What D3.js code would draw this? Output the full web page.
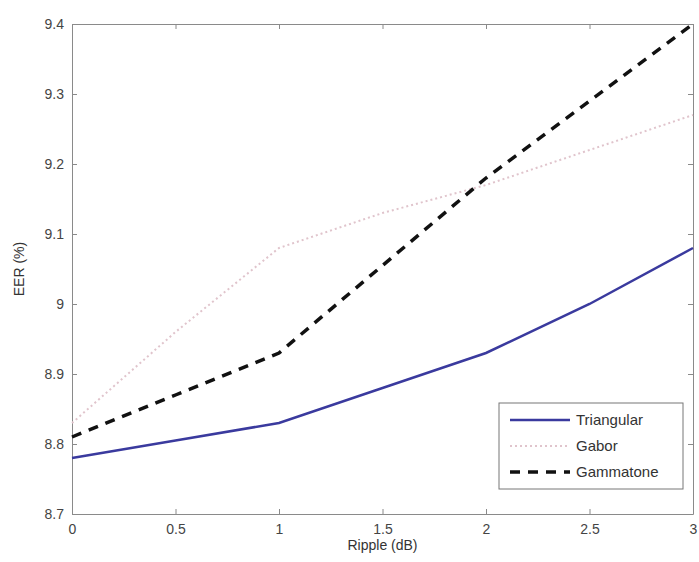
<!DOCTYPE html>
<html>
<head>
<meta charset="utf-8">
<script src="https://cdn.jsdelivr.net/npm/d3@7"></script>
<style>
  body { margin: 0; background: #fff; }
  text { font-family: "Liberation Sans", Arial, sans-serif; fill: #333; }
</style>
</head>
<body>
<div id="chart"></div>
<script>
// values
let ripple = [0, 0.5, 1, 1.5, 2, 2.5, 3];
let triangular = [8.78, 8.805, 8.83, 8.88, 8.93, 9.0, 9.08];
let gabor = [8.83, 8.96, 9.08, 9.13, 9.17, 9.22, 9.27];
let gammatone = [8.81, 8.87, 8.93, 9.055, 9.18, 9.29, 9.40];
let xTicks = [0, 0.5, 1, 1.5, 2, 2.5, 3];
let yTicks = [8.7, 8.8, 8.9, 9, 9.1, 9.2, 9.3, 9.4];
let seriesNames = ["Triangular", "Gabor", "Gammatone"];

let margin = {top: 24, right: 6, bottom: 48, left: 72};
let totalW = 699, totalH = 562;
let width = totalW - margin.left - margin.right;
let height = totalH - margin.top - margin.bottom;

let svg = d3.select("#chart")
    .append("svg")
    .attr("width", totalW)
    .attr("height", totalH)
    .append("g")
    .attr("transform", "translate(" + margin.left + "," + margin.top + ")");

let xScale = d3.scaleLinear().domain([0, 3]).range([0, width]);
let yScale = d3.scaleLinear().domain([8.7, 9.4]).range([height, 0]);

let fmt = d => d3.format("")(+d.toFixed(2));

// axes with inward ticks (matlab style)
let xAxis = d3.axisBottom(xScale).tickValues(xTicks).tickFormat(fmt).tickSizeInner(-5).tickSizeOuter(0).tickPadding(10);
let yAxis = d3.axisLeft(yScale).tickValues(yTicks).tickFormat(fmt).tickSizeInner(-5).tickSizeOuter(0).tickPadding(8);
let xTop = d3.axisTop(xScale).tickValues(xTicks).tickFormat("").tickSizeInner(-5).tickSizeOuter(0);
let yRight = d3.axisRight(yScale).tickValues(yTicks).tickFormat("").tickSizeInner(-5).tickSizeOuter(0);

svg.append("g").attr("transform", `translate(0, ${height})`).call(xAxis);
svg.append("g").call(yAxis);
svg.append("g").call(xTop);
svg.append("g").attr("transform", `translate(${width}, 0)`).call(yRight);

svg.selectAll(".domain, .tick line").attr("stroke", "#8a8a8a");
svg.selectAll(".tick text").style("font-size", "14px").style("fill", "#444")
    .style("font-family", "'Liberation Sans', Arial, sans-serif");

// axis labels
svg.append("text")
    .attr("text-anchor", "middle")
    .attr("x", width / 2)
    .attr("y", height + 36)
    .style("font-size", "14px")
    .text("Ripple (dB)");

svg.append("text")
    .attr("text-anchor", "middle")
    .attr("transform", "rotate(-90)")
    .attr("x", -height / 2)
    .attr("y", -48)
    .style("font-size", "14px")
    .text("EER (%)");

let series = [
    {name: seriesNames[0], values: triangular, color: "#3a3a9e", width: 2.5, dash: null},
    {name: seriesNames[1], values: gabor, color: "#e0c4cc", width: 2, dash: "2,3"},
    {name: seriesNames[2], values: gammatone, color: "#111", width: 3.5, dash: "10,8"}
];

let line = d3.line()
    .x((d, i) => xScale(ripple[i]))
    .y(d => yScale(d));

svg.selectAll(".series")
    .data(series)
    .enter()
    .append("path")
    .attr("class", "series")
    .attr("fill", "none")
    .attr("stroke", d => d.color)
    .attr("stroke-width", d => d.width)
    .attr("stroke-dasharray", d => d.dash)
    .attr("d", d => line(d.values));

// legend
let legend = svg.append("g")
    .attr("transform", "translate(" + (width - 194) + "," + (height - 111) + ")");

legend.append("rect")
    .attr("width", 184)
    .attr("height", 86)
    .attr("fill", "#fff")
    .attr("stroke", "#777");

let legendItems = legend.selectAll(".legend-item")
    .data(series)
    .enter()
    .append("g")
    .attr("class", "legend-item")
    .attr("transform", (d, i) => `translate(0, ${17 + i * 26})`);

legendItems.append("line")
    .attr("x1", 11)
    .attr("x2", 71)
    .attr("stroke", d => d.color)
    .attr("stroke-width", d => d.width)
    .attr("stroke-dasharray", d => d.dash);

legendItems.append("text")
    .attr("x", 77)
    .attr("y", 5)
    .style("font-size", "15px")
    .text(d => d.name);
</script>
</body>
</html>
